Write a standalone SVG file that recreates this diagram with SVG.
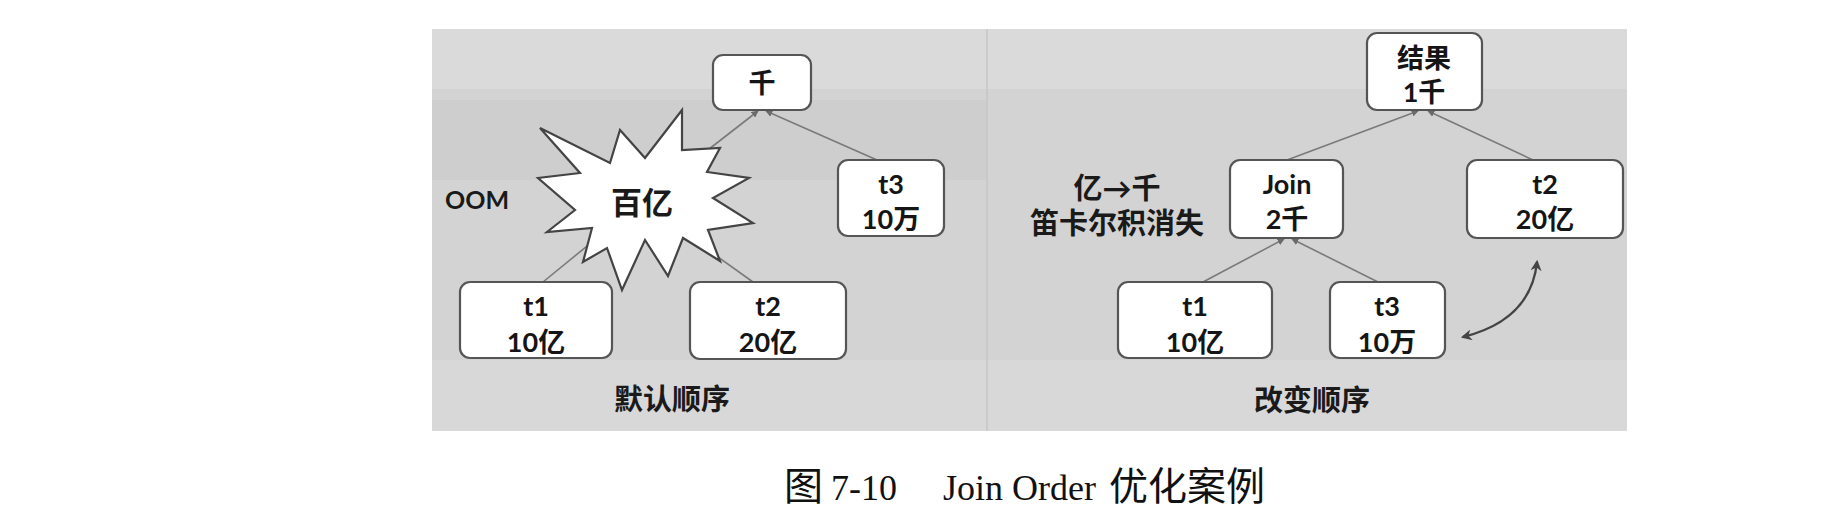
<svg xmlns="http://www.w3.org/2000/svg" width="1842" height="528" viewBox="0 0 1842 528">
<style>
.box{fill:#ffffff;stroke:#555555;stroke-width:2.2}
.t{font-family:Lato,"Noto Sans CJK SC",sans-serif;font-weight:700;font-size:27px;fill:#151515;text-anchor:middle;dominant-baseline:central}
.lbl{font-family:Lato,"Noto Sans CJK SC",sans-serif;font-weight:700;font-size:29px;fill:#1a1a1a;text-anchor:middle;dominant-baseline:central}
.con{stroke:#7a7a7a;stroke-width:1.6;fill:none}
.cap{font-family:"Liberation Serif","Noto Sans CJK SC",serif;font-size:36px;fill:#111}
.capcjk{font-size:39px}
</style>
<defs>
<marker id="ah" viewBox="0 0 10 10" refX="9" refY="5" markerWidth="7" markerHeight="7" orient="auto" markerUnits="userSpaceOnUse">
<path d="M0,0 L10,5 L0,10 z" fill="#6a6a6a"/>
</marker>
<marker id="ah2" viewBox="0 0 10 10" refX="8" refY="5" markerWidth="11" markerHeight="11" orient="auto-start-reverse" markerUnits="userSpaceOnUse">
<path d="M0,0 L10,5 L0,10 L3,5 z" fill="#444"/>
</marker>
</defs>
<rect width="1842" height="528" fill="#ffffff"/>
<g id="panel">
<rect x="432" y="29" width="1195" height="402" fill="#d3d3d3"/>
<rect x="432" y="29" width="1195" height="60" fill="#dadada"/>
<rect x="432" y="100" width="555" height="80" fill="#cdcdcd" opacity="0.8"/>
<rect x="432" y="360" width="1195" height="71" fill="#d8d8d8"/>
<line x1="987" y1="29" x2="987" y2="431" stroke="#c6c6c6" stroke-width="1.5"/>
</g>
<g id="connectors">
<line class="con" x1="641" y1="202" x2="758" y2="111" marker-end="url(#ah)"/>
<line class="con" x1="877" y1="160" x2="766" y2="111" marker-end="url(#ah)"/>
<line class="con" x1="543" y1="282" x2="641" y2="202"/>
<line class="con" x1="753" y1="282" x2="641" y2="202"/>
<line class="con" x1="1287" y1="160" x2="1418" y2="111" marker-end="url(#ah)"/>
<line class="con" x1="1533" y1="160" x2="1428" y2="111" marker-end="url(#ah)"/>
<line class="con" x1="1203" y1="282" x2="1284" y2="239" marker-end="url(#ah)"/>
<line class="con" x1="1378" y1="282" x2="1292" y2="239" marker-end="url(#ah)"/>
<path d="M1537,262 Q1531,320 1463,337" stroke="#444" stroke-width="2.4" fill="none" marker-start="url(#ah2)" marker-end="url(#ah2)"/>
</g>
<g id="star">
<polygon points="540,128 610,163 620,130 645,158 682,110 682,150 720,148 707,172 749,178 713,198 753,223 708,230 720,261 683,238 668,276 645,240 622,290 607,248 583,262 592,228 547,232 575,210 538,178 580,173" fill="#ffffff" stroke="#444" stroke-width="2.2" stroke-linejoin="miter"/>
<text class="lbl" x="642" y="202" style="font-size:31px">百亿</text>
</g>
<g id="oom"><text class="lbl" x="477" y="199" style="font-size:25px">OOM</text></g>
<g id="qian">
<rect class="box" x="713" y="55" width="98" height="55" rx="10"/>
<text class="t" x="762" y="82">千</text>
</g>
<g id="t3-left">
<rect class="box" x="838" y="160" width="106" height="76" rx="10"/>
<text class="t" x="891" y="183">t3</text>
<text class="t" x="891" y="218">10万</text>
</g>
<g id="t1-left">
<rect class="box" x="460" y="282" width="152" height="76" rx="10"/>
<text class="t" x="536" y="305">t1</text>
<text class="t" x="536" y="341">10亿</text>
</g>
<g id="t2-left">
<rect class="box" x="690" y="282" width="156" height="77" rx="10"/>
<text class="t" x="768" y="305">t2</text>
<text class="t" x="768" y="341">20亿</text>
</g>
<g id="label-default"><text class="lbl" x="672" y="398">默认顺序</text></g>
<g id="result">
<rect class="box" x="1367" y="33" width="115" height="77" rx="10"/>
<text class="t" x="1424" y="57">结果</text>
<text class="t" x="1424" y="91">1千</text>
</g>
<g id="join">
<rect class="box" x="1230" y="160" width="113" height="78" rx="10"/>
<text class="t" x="1287" y="183">Join</text>
<text class="t" x="1287" y="218">2千</text>
</g>
<g id="t2-right">
<rect class="box" x="1467" y="160" width="156" height="78" rx="10"/>
<text class="t" x="1545" y="183">t2</text>
<text class="t" x="1545" y="218">20亿</text>
</g>
<g id="t1-right">
<rect class="box" x="1118" y="282" width="154" height="76" rx="10"/>
<text class="t" x="1195" y="305">t1</text>
<text class="t" x="1195" y="341">10亿</text>
</g>
<g id="t3-right">
<rect class="box" x="1330" y="282" width="115" height="76" rx="10"/>
<text class="t" x="1387" y="305">t3</text>
<text class="t" x="1387" y="341">10万</text>
</g>
<g id="note">
<text class="lbl" x="1117" y="187">亿→千</text>
<text class="lbl" x="1117" y="222">笛卡尔积消失</text>
</g>
<g id="label-changed"><text class="lbl" x="1312" y="399">改变顺序</text></g>
<g id="caption">
<text class="cap" y="500"><tspan x="784" class="capcjk">图</tspan><tspan x="831">7-10</tspan><tspan x="943">Join Order</tspan><tspan x="1109" class="capcjk">优化案例</tspan></text>
</g>
</svg>
